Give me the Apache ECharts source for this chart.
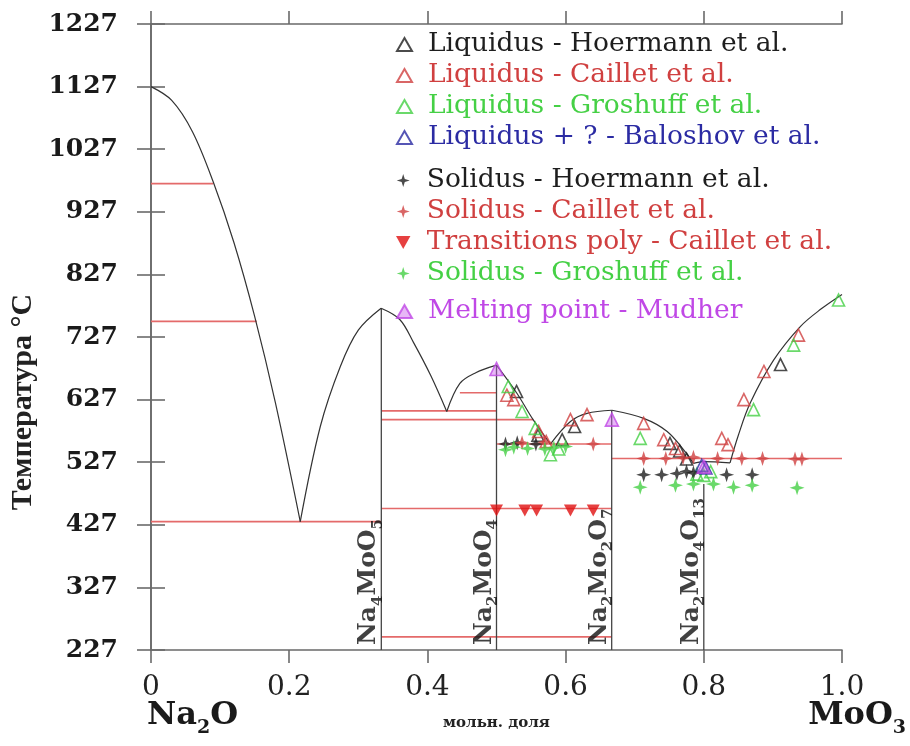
<!DOCTYPE html>
<html>
<head>
<meta charset="utf-8">
<script src="https://cdn.jsdelivr.net/npm/echarts@6/dist/echarts.min.js"></script>
<style>
  html, body { margin: 0; padding: 0; background: #fff; }
  #chart { width: 910px; height: 746px; }
</style>
</head>
<body>
<div id="chart"></div>
<script>
// Na2O – MoO3 phase diagram: calculated liquidus, invariant lines,
// intermediate compounds and experimental points from several authors.
// x = mole fraction MoO3, temperatures in °C (axis is built in kelvin).

const xTickLabels = ['0', '0.2', '0.4', '0.6', '0.8', '1.0'];
const tempTickLabels = ['227', '327', '427', '527', '627', '727', '827', '927', '1027', '1127', '1227'];

// calculated liquidus, one array per branch
const liqBranch1 = [[0, 1127], [0.03, 1105], [0.06, 1055], [0.09, 975], [0.12, 878], [0.15, 760], [0.18, 622], [0.216, 432]];
const liqBranch2 = [[0.216, 432], [0.245, 584], [0.274, 680], [0.3, 738], [0.333, 773]];
const liqBranch3 = [[0.333, 773], [0.36, 755], [0.38, 718], [0.405, 665], [0.428, 608]];
const liqBranch4 = [[0.428, 608], [0.447, 653], [0.47, 670], [0.5, 682]];
const liqBranch5 = [[0.5, 682], [0.529, 638], [0.553, 595], [0.578, 556]];
const liqBranch6 = [[0.578, 556], [0.607, 592], [0.631, 605], [0.667, 610]];
const liqBranch7 = [[0.667, 610], [0.713, 597], [0.747, 576], [0.775, 541], [0.785, 525]];
const liqBranch8 = [[0.785, 525], [0.8, 528], [0.838, 526]];
const liqBranch9 = [[0.838, 526], [0.85, 570], [0.867, 621], [0.901, 690], [0.94, 744], [0.97, 772], [1.0, 795]];

// invariant lines: [x from, x to, T]
const invariantLines = [
  [0, 0.09, 972], [0, 0.153, 752], [0, 0.3333, 432],
  [0.447, 0.5, 638], [0.3333, 0.5, 609], [0.3333, 0.553, 595],
  [0.5, 0.6667, 556], [0.3333, 0.6667, 453], [0.3333, 0.6667, 248],
  [0.6667, 1.0, 533]
];

// intermediate compounds
const compoundX = [0.3333, 0.5, 0.6667, 0.8];
const compoundTop = [773, 682, 610, 492];
const compoundLabels = [
  '{m|Na}{s|4}{m|MoO}{s|5}',
  '{m|Na}{s|2}{m|MoO}{s|4}',
  '{m|Na}{s|2}{m|Mo}{s|2}{m|O}{s|7}',
  '{m|Na}{s|2}{m|Mo}{s|4}{m|O}{s|13}'
];

// experimental points [x, T]
const liqHoermann = [[0.529, 640], [0.56, 570], [0.595, 563], [0.613, 584], [0.751, 557], [0.765, 545], [0.775, 532], [0.911, 683]];
const liqCaillet = [[0.515, 634], [0.525, 627], [0.561, 576], [0.572, 560], [0.607, 595], [0.631, 603], [0.713, 589], [0.742, 563], [0.759, 549], [0.826, 565], [0.835, 555], [0.858, 627], [0.887, 672], [0.937, 730]];
const liqGroshuff = [[0.517, 648], [0.537, 608], [0.556, 581], [0.578, 539], [0.59, 548], [0.708, 565], [0.79, 508], [0.8, 506], [0.81, 512], [0.872, 611], [0.93, 714], [0.995, 786]];
const liqBaloshov = [[0.797, 522], [0.803, 518]];
const solHoermann = [[0.513, 556], [0.53, 558], [0.557, 556], [0.713, 507], [0.739, 507], [0.761, 509], [0.775, 512], [0.785, 510], [0.833, 507], [0.87, 507]];
const solCaillet = [[0.537, 558], [0.57, 559], [0.64, 556], [0.713, 533], [0.745, 533], [0.77, 534], [0.785, 535], [0.82, 533], [0.855, 533], [0.885, 533], [0.932, 532], [0.942, 532]];
const transCaillet = [[0.5, 450], [0.541, 450], [0.558, 450], [0.607, 450], [0.64, 450]];
const solGroshuff = [[0.513, 547], [0.525, 551], [0.545, 549], [0.57, 548], [0.583, 550], [0.6, 552], [0.708, 487], [0.759, 490], [0.785, 492], [0.814, 492], [0.843, 487], [0.87, 490], [0.935, 486]];
const meltMudher = [[0.5, 676], [0.667, 595], [0.8, 520]];

const C_BLACK = '#1e1e1e';
const C_RED = '#d04040';
const C_GREEN = '#45d045';
const C_BLUE = '#2b2ba3';
const C_MAGENTA = '#c048e6';
const C_LINE = '#e46a6a';
const C_AXIS = '#6a6a6a';
const SERIF = 'DejaVu Serif';

const toK = t => t + 273;
const pts = arr => arr.map(p => [p[0], toK(p[1])]);

const STAR = 'path://M5,0 L6.2,3.8 L10,5 L6.2,6.2 L5,10 L3.8,6.2 L0,5 L3.8,3.8 Z';
const DOWN = 'path://M0,0 L10,0 L5,9 Z';

const series = [];

invariantLines.forEach(l => {
  series.push({
    type: 'line', silent: true, symbol: 'none',
    data: pts([[l[0], l[2]], [l[1], l[2]]]),
    lineStyle: { color: C_LINE, width: 1.6 }, z: 1
  });
});

compoundX.forEach((x, i) => {
  series.push({
    type: 'line', silent: true, symbol: 'none',
    data: pts([[x, 227], [x, compoundTop[i]]]),
    lineStyle: { color: '#444', width: 1.3 }, z: 2
  });
});

[liqBranch1, liqBranch2, liqBranch3, liqBranch4, liqBranch5, liqBranch6, liqBranch7, liqBranch8, liqBranch9].forEach(b => {
  series.push({
    type: 'line', silent: true, symbol: 'none', smooth: 0.35,
    data: pts(b),
    lineStyle: { color: '#333', width: 1.2 }, z: 3
  });
});

// compound names, rotated along the vertical lines
series.push({
  type: 'scatter', silent: true, symbolSize: 0,
  itemStyle: { color: 'transparent' },
  data: compoundX.map((x, i) => ({ value: [x, toK(235)], label: { formatter: compoundLabels[i] } })),
  label: {
    show: true, position: 'inside', rotate: 90,
    align: 'left', verticalAlign: 'bottom',
    rich: {
      m: { fontFamily: SERIF, fontWeight: 'bold', fontSize: 25, color: '#111', lineHeight: 31, verticalAlign: 'bottom' },
      s: { fontFamily: SERIF, fontWeight: 'bold', fontSize: 15, color: '#111', lineHeight: 31, verticalAlign: 'bottom', padding: [0, 0, -4, 0] }
    }
  },
  z: 4
});

function openTri(name, data, color) {
  return {
    name, type: 'scatter', symbol: 'triangle', symbolSize: 12,
    data: pts(data),
    itemStyle: { color: 'rgba(255,255,255,0)', borderColor: color, borderWidth: 1.6 },
    z: 5
  };
}
function star(name, data, color) {
  return {
    name, type: 'scatter', symbol: STAR, symbolSize: 15,
    data: pts(data),
    itemStyle: { color: color },
    z: 5
  };
}

series.push(openTri('Liquidus - Hoermann et al.', liqHoermann, C_BLACK));
series.push(openTri('Liquidus - Caillet et al.', liqCaillet, C_RED));
series.push(openTri('Liquidus - Groshuff et al.', liqGroshuff, C_GREEN));
series.push(openTri('Liquidus + ? - Baloshov et al.', liqBaloshov, C_BLUE));
series.push(star('Solidus - Hoermann et al.', solHoermann, C_BLACK));
series.push(star('Solidus - Caillet et al.', solCaillet, C_RED));
series.push({
  name: 'Transitions poly - Caillet et al.', type: 'scatter', symbol: DOWN, symbolSize: [13, 12],
  data: pts(transCaillet), itemStyle: { color: '#e01010' }, z: 5
});
series.push(star('Solidus - Groshuff et al.', solGroshuff, C_GREEN));
series.push({
  name: 'Melting point - Mudher', type: 'scatter', symbol: 'triangle', symbolSize: 13,
  data: pts(meltMudher),
  itemStyle: { color: 'rgba(200,90,235,0.55)', borderColor: C_MAGENTA, borderWidth: 1.6 },
  z: 6
});

const legendBase = {
  orient: 'vertical', left: 396, padding: 0, itemGap: 4,
  itemWidth: 15, itemHeight: 13,
  textStyle: { fontFamily: SERIF, fontSize: 26.5, lineHeight: 25, padding: [0, 0, 0, 11] },
  selectedMode: false
};
const legItem = (name, color) => ({ name, textStyle: { color } });

const subRich = {
  m: { fontFamily: SERIF, fontWeight: 'bold', fontSize: 32, fill: '#1a1a1a', lineHeight: 40, verticalAlign: 'bottom' },
  s: { fontFamily: SERIF, fontWeight: 'bold', fontSize: 19, fill: '#1a1a1a', lineHeight: 40, verticalAlign: 'bottom', padding: [0, 0, -6, 0] }
};

const option = {
  animation: false,
  backgroundColor: '#fff',
  grid: { left: 151, right: 68, top: 24, bottom: 96, containLabel: false, outerBoundsMode: 'none' },
  xAxis: [
    {
      type: 'value', min: 0, max: 1, interval: 0.2, position: 'bottom',
      axisLine: { show: true, lineStyle: { color: C_AXIS, width: 1.6 } },
      axisTick: { show: true, inside: false, length: 13, lineStyle: { color: C_AXIS, width: 1.6 } },
      axisLabel: {
        formatter: (v, i) => xTickLabels[i], margin: 24,
        fontFamily: SERIF, fontSize: 28, color: '#222'
      },
      splitLine: { show: false },
      name: 'мольн. доля', nameLocation: 'middle', nameGap: 66,
      nameTextStyle: { fontFamily: SERIF, fontWeight: 'bold', fontSize: 15, color: '#222' }
    },
    {
      type: 'value', min: 0, max: 1, interval: 0.2, position: 'top',
      axisLine: { show: true, lineStyle: { color: C_AXIS, width: 1.6 } },
      axisTick: { show: true, inside: false, length: 13, lineStyle: { color: C_AXIS, width: 1.6 } },
      axisLabel: { show: false }, splitLine: { show: false }
    }
  ],
  yAxis: [
    {
      type: 'value', min: 500, max: 1500, interval: 100, position: 'left',
      axisLine: { show: true, lineStyle: { color: C_AXIS, width: 1.6 } },
      axisTick: { show: true, inside: false, length: 14, lineStyle: { color: C_AXIS, width: 1.6 } },
      axisLabel: {
        formatter: (v, i) => tempTickLabels[i], margin: 33,
        fontFamily: SERIF, fontWeight: 'bold', fontSize: 25, color: '#1a1a1a'
      },
      splitLine: { show: false }
    },
    {
      type: 'value', min: 500, max: 1500, interval: 100, position: 'right',
      axisLine: { show: true, lineStyle: { color: C_AXIS, width: 1.6 } },
      axisTick: { show: true, inside: false, length: 14, lineStyle: { color: C_AXIS, width: 1.6 } },
      axisLabel: { show: false }, splitLine: { show: false }
    }
  ],
  legend: [
    Object.assign({}, legendBase, {
      top: 31,
      data: [
        legItem('Liquidus - Hoermann et al.', C_BLACK),
        legItem('Liquidus - Caillet et al.', C_RED),
        legItem('Liquidus - Groshuff et al.', C_GREEN),
        legItem('Liquidus + ? - Baloshov et al.', C_BLUE)
      ]
    }),
    Object.assign({}, legendBase, {
      top: 167,
      data: [
        legItem('Solidus - Hoermann et al.', C_BLACK),
        legItem('Solidus - Caillet et al.', C_RED),
        legItem('Transitions poly - Caillet et al.', C_RED),
        legItem('Solidus - Groshuff et al.', C_GREEN)
      ]
    }),
    Object.assign({}, legendBase, {
      top: 298,
      data: [legItem('Melting point - Mudher', C_MAGENTA)]
    })
  ],
  graphic: [
    {
      type: 'text', x: 23, y: 402, rotation: Math.PI / 2,
      style: {
        text: 'Температура °C', align: 'center', verticalAlign: 'middle',
        textAlign: 'center', textVerticalAlign: 'middle',
        fontFamily: 'Liberation Serif', fontWeight: 'bold', fontSize: 30, fill: '#222'
      }
    },
    {
      type: 'text', left: 147, top: 700,
      style: { text: '{m|Na}{s|2}{m|O}', rich: subRich }
    },
    {
      type: 'text', right: 4, top: 700,
      style: { text: '{m|MoO}{s|3}', rich: subRich }
    }
  ],
  series
};

const chart = echarts.init(document.getElementById('chart'));
chart.setOption(option);
</script>
</body>
</html>
